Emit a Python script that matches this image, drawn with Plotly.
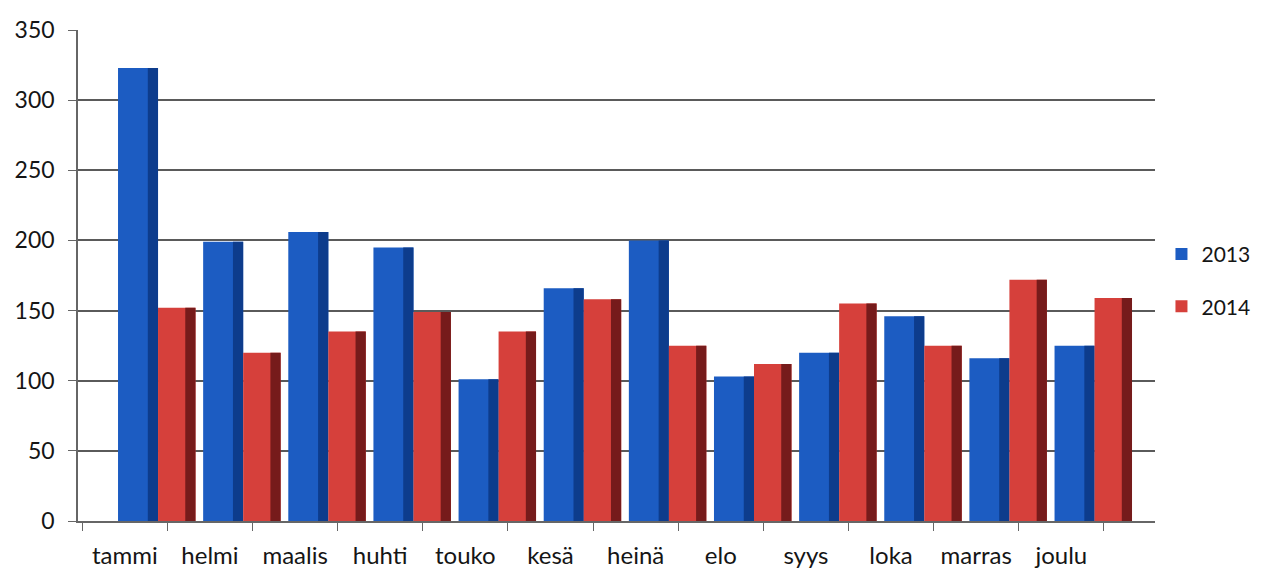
import plotly.graph_objects as go

months = ["tammi", "helmi", "maalis", "huhti", "touko", "kesä",
          "heinä", "elo", "syys", "loka", "marras", "joulu"]
v2013 = [323, 199, 206, 195, 101, 166, 200, 103, 120, 146, 116, 125]
v2014 = [152, 120, 135, 149, 135, 158, 125, 112, 155, 125, 172, 159]
y_ticks = [0, 50, 100, 150, 200, 250, 300, 350]

BW = 0.47      # full bar width (front + side)
SIDE = 0.12    # darker side face width
OFF13 = -0.08
OFF14 = 0.39

fig = go.Figure()
# 2013 front + side
fig.add_trace(go.Bar(x=months, y=v2013, name="2013", legendgroup="a",
                     offset=OFF13, width=BW,
                     marker=dict(color="#1c5cc2", line=dict(width=0))))
fig.add_trace(go.Bar(x=months, y=v2013, name="2013", legendgroup="a", showlegend=False,
                     offset=OFF13 + BW - SIDE, width=SIDE, hoverinfo="skip",
                     marker=dict(color="#0d3c8c", line=dict(width=0))))
# 2014 front + side
fig.add_trace(go.Bar(x=months, y=v2014, name="2014", legendgroup="b",
                     offset=OFF14, width=BW - 0.03,
                     marker=dict(color="#d6403b", line=dict(width=0))))
fig.add_trace(go.Bar(x=months, y=v2014, name="2014", legendgroup="b", showlegend=False,
                     offset=OFF14 + BW - 0.03 - SIDE, width=SIDE, hoverinfo="skip",
                     marker=dict(color="#761b1b", line=dict(width=0))))

fig.update_layout(
    width=1254, height=565,
    paper_bgcolor="white", plot_bgcolor="white",
    margin=dict(l=70, r=107, t=22, b=52, autoexpand=False),
    barmode="overlay",
    font=dict(family="Lato, Open Sans, sans-serif", size=23, color="#151515"),
    showlegend=True,
    legend=dict(x=1.006, y=0.49, xanchor="left", yanchor="middle",
                font=dict(size=21), tracegroupgap=22, bgcolor="rgba(0,0,0,0)",
                itemwidth=30),
    xaxis=dict(range=[-0.55, 12.1], showline=True, linecolor="#666", linewidth=1.5,
               ticks="outside", tickson="boundaries", ticklen=8, tickcolor="#666",
               tickfont=dict(size=24), ticklabelstandoff=12,
               showgrid=False, automargin=False),
    yaxis=dict(range=[0, 350], tickvals=y_ticks, showline=True, linecolor="#666",
               linewidth=1.5, ticks="outside", ticklen=8, tickcolor="#666",
               ticklabelstandoff=9,
               showgrid=True, gridcolor="#5a5a5a", gridwidth=1.5, zeroline=False,
               automargin=False),
)

fig.write_html("out.html")
